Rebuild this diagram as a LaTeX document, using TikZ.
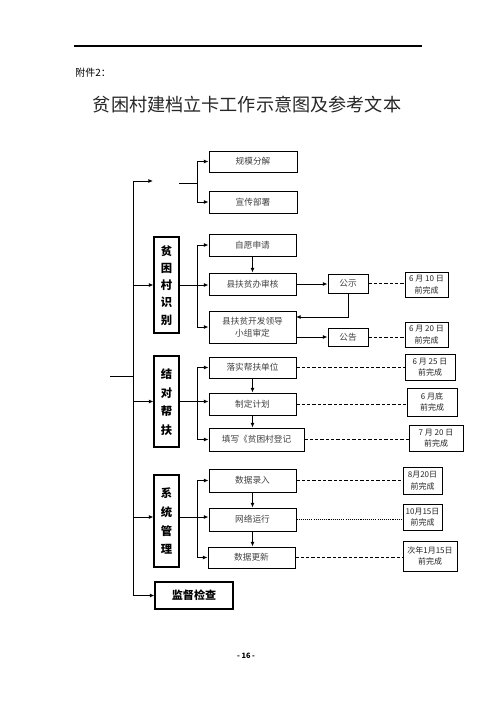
\documentclass[tikz,border=0pt]{standalone}
\usepackage{fontspec}
\setmainfont{Noto Sans CJK SC}
\usetikzlibrary{arrows.meta,fit}
\newcommand\ct[1]{\raisebox{-0.34em}[0pt][0pt]{\begin{tabular}{@{}c@{}}#1\end{tabular}}}
\begin{document}
\begin{tikzpicture}[x=0.75pt,y=-0.75pt,
 box/.style={draw, line width=0.7pt, inner sep=0pt, font=\fontsize{6.5}{9.5}\selectfont, text=black!75},
 dbox/.style={draw, line width=0.7pt, inner sep=0pt, font=\fontsize{6}{8.5}\selectfont, text=black!85},
 vbox/.style={draw, line width=0.8pt, inner sep=0pt, font=\bfseries\fontsize{8.5}{#1}\selectfont},
 ln/.style={line width=0.7pt},
 arr/.style={line width=0.7pt, -{Latex[length=3.5pt,width=3pt]}},
 dsh/.style={line width=0.6pt, dash pattern=on 2.5pt off 1.5pt},
 dotl/.style={line width=0.6pt, dash pattern=on 0.8pt off 0.8pt},
]
\useasboundingbox (0,0) rectangle (496,702);
% header
\draw[line width=0.9pt] (74,46) -- (422,46);
\node[anchor=west, inner sep=0pt, font=\fontsize{7.5}{9}\selectfont] (fj) at (75,73) {附件2：};
\node[inner sep=0pt, font=\fontsize{13.6}{16}\selectfont, text=black!85] (title) at (247,105) {贫困村建档立卡工作示意图及参考文本};
% boxes
\node[box, fit={(209,151) (297,172)}] (gm) {\ct{规模分解}};
\node[box, fit={(209,191) (297,213)}] (xc) {\ct{宣传部署}};
\node[vbox=12.9pt, fit={(154,237) (179,333)}] (sb) {\ct{贫\\困\\村\\识\\别}};
\node[box, fit={(209,234) (296,256)}] (zy) {\ct{自愿申请}};
\node[box, fit={(209,273) (296,295)}] (sh) {\ct{县扶贫办审核}};
\node[box, fit={(209,311) (296,343)}] (sd) {\ct{县扶贫开发领导\\小组审定}};
\node[box, fit={(328,274) (368,293)}] (gs) {\ct{公示}};
\node[box, fit={(328,328) (368,346)}] (gg) {\ct{公告}};
\node[dbox, fit={(405,272) (448,297)}] (d1) {\ct{6 月 10 日\\前完成}};
\node[dbox, fit={(405,322) (448,347)}] (d2) {\ct{6 月 20 日\\前完成}};
\node[dbox, fit={(405,354) (455,380)}] (d3) {\ct{6 月 25 日\\前完成}};
\node[vbox=14pt, fit={(154,356) (179,447)}] (jd) {\ct{结\\对\\帮\\扶}};
\node[box, fit={(209,357) (296,378)}] (ls) {\ct{落实帮扶单位}};
\node[box, fit={(209,393) (296,415)}] (zd) {\ct{制定计划}};
\node[box, fit={(209,428) (304,451)}] (tx) {\ct{填写《贫困村登记}};
\node[dbox, fit={(407,388) (457,416)}] (d4) {\ct{6 月底\\前完成}};
\node[dbox, fit={(409,425) (463,451)}] (d5) {\ct{7 月 20 日\\前完成}};
\node[vbox=14pt, fit={(154,475) (179,567)}] (xt) {\ct{系\\统\\管\\理}};
\node[box, fit={(209,469) (296,492)}] (sl) {\ct{数据录入}};
\node[box, fit={(209,508) (296,531)}] (wl) {\ct{网络运行}};
\node[box, fit={(208,547) (295,568)}] (gx) {\ct{数据更新}};
\node[dbox, fit={(403,467) (442,494)}] (d6) {\ct{8月20日\\前完成}};
\node[dbox, fit={(403,504) (442,530)}] (d7) {\ct{10月15日\\前完成}};
\node[dbox, fit={(403,541) (457,571)}] (d8) {\ct{次年1月15日\\前完成}};
\node[draw, line width=0.8pt, inner sep=0pt, font=\bfseries\fontsize{8.3}{10}\selectfont, fit={(155,582) (233,609)}] (jc) {\ct{监督检查}};
\node[inner sep=0pt, font=\bfseries\fontsize{5.5}{7}\selectfont] (pg) at (246,656) {- 16 -};
% coordinates
\coordinate (top) at (133,181);
\coordinate (blank) at (153,181);
\coordinate (bl1) at (179,183);
\coordinate (br1) at (197,183);
\coordinate (br) at (197,0);
\coordinate (lin) at (110,376);
\coordinate (sdin) at (296,317);
\coordinate (m3) at (133,517);
% main trunk
\draw[ln] (top) -- (top |- jc.west);
\draw[ln] (lin) -- (lin -| top);
\draw[arr] (top) -- (blank);
\draw[arr] (top |- sb.west) -- (sb.west);
\draw[arr] (top |- jd.west) -- (jd.west);
\draw[arr] (m3) -- (m3 -| xt.west);
\draw[arr] (top |- jc.west) -- (jc.west);
% group 0
\draw[ln] (bl1) -- (br1);
\draw[arr] (br1) |- (gm.west);
\draw[arr] (br1) |- (xc.west);
% group 1
\draw[arr] (sb.east) -- (sb.east -| sh.west);
\draw[arr] (sb.east -| br) |- (zy.west);
\draw[arr] (sb.east -| br) |- (sd.west);
\draw[arr] (zy.south) -- (sh.north);
\draw[arr] (sh.east) -- (sh.east -| gs.west);
\draw[arr] (gs.south) |- (sdin);
\draw[arr] (sd.east |- gg.west) -- (gg.west);
\draw[dsh] (gs.east) -- (gs.east -| d1.west);
\draw[dsh] (gg.east) -- (gg.east -| d2.west);
% group 2
\draw[dsh] (ls.east) -- (ls.east -| d3.west);
\draw[arr] (jd.east) -- (jd.east -| zd.west);
\draw[arr] (jd.east -| br) |- (ls.west);
\draw[arr] (jd.east -| br) |- (tx.west);
\draw[arr] (ls.south) -- (zd.north);
\draw[arr] (zd.south) -- (zd.south |- tx.north);
\draw[dsh] (zd.east) -- (zd.east -| d4.west);
\draw[dsh] (tx.east) -- (tx.east -| d5.west);
% group 3
\draw[arr] (m3 -| xt.east) -- (m3 -| wl.west);
\draw[arr] (m3 -| br) |- (sl.west);
\draw[arr] (m3 -| br) |- (gx.west);
\draw[arr] (sl.south) -- (sl.south |- wl.north);
\draw[arr] (wl.south) -- (wl.south |- gx.north);
\draw[dsh] (sl.east) -- (sl.east -| d6.west);
\draw[dotl] (wl.east) -- (wl.east -| d7.west);
\draw[dsh] (gx.east) -- (gx.east -| d8.west);
\end{tikzpicture}
\end{document}
